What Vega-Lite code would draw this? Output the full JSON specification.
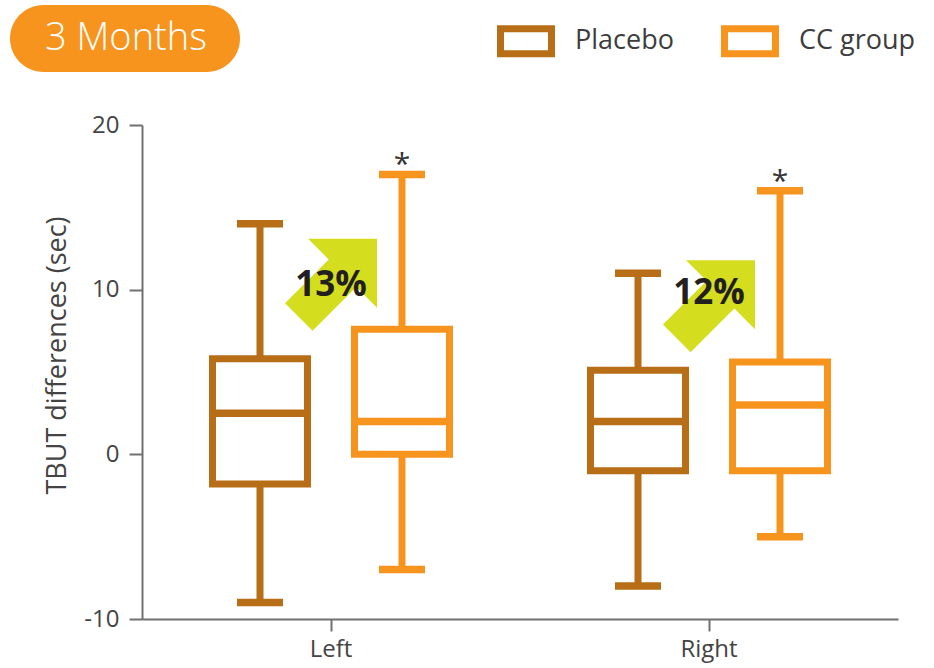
{
  "$schema": "https://vega.github.io/schema/vega-lite/v6.json",
  "width": 756,
  "height": 494,
  "autosize": {"type": "none"},
  "padding": {"left": 142, "top": 125, "right": 36, "bottom": 49},
  "background": "white",
  "config": {
    "view": {"stroke": null},
    "font": "Open Sans",
    "tick": {"opacity": 1},
    "axis": {
      "domainColor": "#707070",
      "domainWidth": 2,
      "tickColor": "#707070",
      "tickWidth": 2,
      "labelColor": "#444444",
      "labelFontSize": 24,
      "labelFont": "Open Sans",
      "grid": false
    }
  },
  "datasets": {
    "boxes": [
      {"side": "Left", "group": "Placebo", "min": -9, "q1": -1.8, "median": 2.5, "q3": 5.8, "max": 14, "sig": ""},
      {"side": "Left", "group": "CC group", "min": -7, "q1": 0, "median": 2, "q3": 7.6, "max": 17, "sig": "*"},
      {"side": "Right", "group": "Placebo", "min": -8, "q1": -1, "median": 2, "q3": 5.1, "max": 11, "sig": ""},
      {"side": "Right", "group": "CC group", "min": -5, "q1": -1, "median": 3, "q3": 5.6, "max": 16, "sig": "*"}
    ],
    "change": [
      {"side": "Left", "pct": "13%", "arrowY": 10.3, "labelY": 10.3, "period": "3 Months"},
      {"side": "Right", "pct": "12%", "arrowY": 9.0, "labelY": 9.8, "period": "3 Months"}
    ]
  },
  "layer": [
    {
      "data": {"name": "boxes"},
      "mark": {"type": "rule", "strokeWidth": 7},
      "encoding": {
        "x": {"field": "side", "type": "nominal", "sort": ["Left", "Right"], "scale": {"paddingInner": 0, "paddingOuter": 0}, "axis": {"title": null, "labelAngle": 0, "tickSize": 12, "labelPadding": 6}},
        "xOffset": {"field": "group", "type": "nominal", "sort": ["Placebo", "CC group"], "scale": {"paddingInner": 0.331, "paddingOuter": 0.4965}},
        "y": {"field": "min", "type": "quantitative", "scale": {"domain": [-10, 20], "nice": false, "zero": false}, "axis": {"values": [-10, 0, 10, 20], "labelExpr": "datum.value + ''", "title": "TBUT differences (sec)", "titleFontSize": 27, "titleFontWeight": "normal", "titleColor": "#444444", "titleFont": "Open Sans", "titlePadding": 12, "titleY": 230, "tickSize": 13, "labelPadding": 10}},
        "y2": {"field": "max"},
        "stroke": {
          "field": "group", "type": "nominal",
          "scale": {"domain": ["Placebo", "CC group"], "range": ["#B86E17", "#F7941E"]},
          "legend": {
            "orient": "none", "legendX": 355, "legendY": -113, "direction": "horizontal", "title": null,
            "symbolType": "M-1,-0.49H1V0.49H-1Z", "symbolSize": 2601, "symbolStrokeWidth": 7, "symbolFillColor": "white",
            "labelFontSize": 27, "labelColor": "#3d3d3d", "labelFont": "Open Sans", "labelOffset": 20, "columnPadding": 36, "padding": 0
          }
        }
      }
    },
    {
      "data": {"name": "boxes"},
      "mark": {"type": "tick", "size": 39, "thickness": 0.5, "strokeWidth": 7, "filled": false, "orient": "horizontal", "opacity": 1},
      "encoding": {
        "x": {"field": "side", "type": "nominal", "sort": ["Left", "Right"]},
        "xOffset": {"field": "group", "type": "nominal", "sort": ["Placebo", "CC group"]},
        "y": {"field": "min", "type": "quantitative"},
        "stroke": {"field": "group", "type": "nominal"}
      }
    },
    {
      "data": {"name": "boxes"},
      "mark": {"type": "tick", "size": 39, "thickness": 0.5, "strokeWidth": 7, "filled": false, "orient": "horizontal", "opacity": 1},
      "encoding": {
        "x": {"field": "side", "type": "nominal", "sort": ["Left", "Right"]},
        "xOffset": {"field": "group", "type": "nominal", "sort": ["Placebo", "CC group"]},
        "y": {"field": "max", "type": "quantitative"},
        "stroke": {"field": "group", "type": "nominal"}
      }
    },
    {
      "data": {"name": "boxes"},
      "mark": {"type": "bar", "fill": "white", "strokeWidth": 7, "width": {"band": 1}},
      "encoding": {
        "x": {"field": "side", "type": "nominal", "sort": ["Left", "Right"]},
        "xOffset": {"field": "group", "type": "nominal", "sort": ["Placebo", "CC group"]},
        "y": {"field": "q1", "type": "quantitative"},
        "y2": {"field": "q3"},
        "stroke": {"field": "group", "type": "nominal"}
      }
    },
    {
      "data": {"name": "boxes"},
      "mark": {"type": "tick", "size": 88, "thickness": 0.5, "strokeWidth": 7, "filled": false, "orient": "horizontal", "opacity": 1},
      "encoding": {
        "x": {"field": "side", "type": "nominal", "sort": ["Left", "Right"]},
        "xOffset": {"field": "group", "type": "nominal", "sort": ["Placebo", "CC group"]},
        "y": {"field": "median", "type": "quantitative"},
        "stroke": {"field": "group", "type": "nominal"}
      }
    },
    {
      "data": {"name": "boxes"},
      "mark": {"type": "text", "fontSize": 30, "color": "#333333", "baseline": "alphabetic", "font": "Open Sans"},
      "encoding": {
        "x": {"field": "side", "type": "nominal", "sort": ["Left", "Right"]},
        "xOffset": {"field": "group", "type": "nominal", "sort": ["Placebo", "CC group"]},
        "y": {"field": "max", "type": "quantitative"},
        "text": {"field": "sig"}
      }
    },
    {
      "data": {"name": "change"},
      "mark": {"type": "point", "filled": true, "color": "#D4DE1F", "opacity": 1, "size": 8464, "strokeWidth": 0, "shape": "M1,-1L-0.5,-1L-0.05,-0.55L-1,0.4L-0.4,1L0.55,0.05L1,0.5Z"},
      "encoding": {
        "x": {"field": "side", "type": "nominal", "sort": ["Left", "Right"]},
        "y": {"field": "arrowY", "type": "quantitative"}
      }
    },
    {
      "data": {"name": "change"},
      "mark": {"type": "text", "fontSize": 35, "fontWeight": "bold", "color": "#231F20", "baseline": "middle", "font": "Open Sans"},
      "encoding": {
        "x": {"field": "side", "type": "nominal", "sort": ["Left", "Right"]},
        "y": {"field": "labelY", "type": "quantitative"},
        "text": {"field": "pct"}
      }
    },
    {
      "data": {"name": "change"},
      "mark": {"type": "text", "text": ""},
      "encoding": {
        "x": {"field": "side", "type": "nominal", "sort": ["Left", "Right"]},
        "y": {"field": "labelY", "type": "quantitative"},
        "fill": {
          "field": "period", "type": "nominal",
          "scale": {"domain": ["3 Months"], "range": ["#F7941E"]},
          "legend": {
            "orient": "none", "legendX": -132, "legendY": -201.5, "title": null, "padding": 0,
            "symbolType": "M-0.709,-0.291H0.709A0.291,0.291 0 0 1 0.709,0.291H-0.709A0.291,0.291 0 0 1 -0.709,-0.291Z",
            "symbolSize": 52900, "symbolStrokeWidth": 0, "symbolOpacity": 1,
            "labelFontSize": 38, "labelColor": "white", "labelFont": "Open Sans", "labelFontWeight": 300, "labelOffset": -195, "labelLimit": 0
          }
        }
      }
    }
  ]
}
